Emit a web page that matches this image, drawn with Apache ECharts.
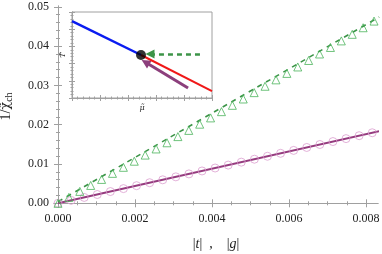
<!DOCTYPE html>
<html><head><meta charset="utf-8">
<script src="https://cdn.jsdelivr.net/npm/echarts@6/dist/echarts.min.js"></script>
<style>html,body{margin:0;padding:0;background:#fff}#c{width:382px;height:254px}</style>
</head><body><div id="c"></div>
<script>
// ---- data ----
const xMajor = [0, 0.002, 0.004, 0.006, 0.008];
const xMinor = [0.0005,0.001,0.0015,0.0025,0.003,0.0035,0.0045,0.005,0.0055,0.0065,0.007,0.0075];
const yMajor = [0, 0.01, 0.02, 0.03, 0.04, 0.05];
const yMinor = [0.002,0.004,0.006,0.008,0.012,0.014,0.016,0.018,0.022,0.024,0.026,0.028,0.032,0.034,0.036,0.038,0.042,0.044,0.046,0.048];

// green triangles (|g|)
const triX = [0,0.000283,0.000566,0.000849,0.001132,0.001415,0.001698,0.001981,0.002264,0.002547,0.00283,0.003113,0.003396,0.003679,0.003962,0.004245,0.004528,0.004811,0.005094,0.005377,0.00566,0.005943,0.006226,0.006509,0.006792,0.007075,0.007358,0.007641,0.007924,0.008207];
const triY = [0,0.00151,0.00303,0.00455,0.00608,0.00762,0.00916,0.01071,0.01227,0.01383,0.0154,0.01697,0.01855,0.02013,0.02173,0.02332,0.02493,0.02654,0.02816,0.02978,0.03141,0.03305,0.03469,0.03634,0.03799,0.03965,0.04132,0.04299,0.04467,0.04636];
const greenLineX = [0, 0.00834];
const greenLineY = [0.0004, 0.0474];

// purple circles (|t|)
const cirX = [0,0.00034,0.00068,0.00102,0.00136,0.0017,0.00204,0.00238,0.00272,0.00306,0.0034,0.00374,0.00408,0.00442,0.00476,0.0051,0.00544,0.00578,0.00612,0.00646,0.0068,0.00714,0.00748,0.00782,0.00816];
const cirY = [0,0.00075,0.0015,0.00224,0.00299,0.00374,0.00449,0.00524,0.00598,0.00673,0.00748,0.00823,0.00898,0.00972,0.01047,0.01122,0.01197,0.01272,0.01346,0.01421,0.01496,0.01571,0.01646,0.0172,0.01795];
const purpleLineX = [0, 0.00834];
const purpleLineY = [0, 0.01835];

// inset (normalised coordinates)
const blueX = [0, 0.493];
const blueY = [0.895, 0.5];
const redX = [0.493, 1];
const redY = [0.5, 0.081];
const dotXY = [0.493, 0.5];
const greenArrow = [[0.914, 0.512], [0.557, 0.512]];
const purpleArrow = [[0.829, 0.116], [0.525, 0.415]];

const zip = (a, b) => a.map((v, i) => [v, b[i]]);
const frame = '#a0a0a0';
const serif = 'Liberation Serif';
const dserif = 'DejaVu Serif';

function xAx(opts) {
  return Object.assign({
    type: 'value', gridIndex: 0, min: -0.000104, max: 0.00831,
    axisLine: { show: true, lineStyle: { color: frame, width: 1 } },
    splitLine: { show: false },
    axisLabel: { show: false }
  }, opts);
}
function yAx(opts) {
  return Object.assign({
    type: 'value', gridIndex: 0, min: -0.00094, max: 0.0502,
    axisLine: { show: true, lineStyle: { color: frame, width: 1 } },
    splitLine: { show: false },
    axisLabel: { show: false }
  }, opts);
}
const majTick = v => ({ show: true, inside: true, length: 4, customValues: v, lineStyle: { color: frame } });
const minTick = v => ({ show: true, inside: true, length: 2, customValues: v, lineStyle: { color: frame } });
const insetAx = (pos, extra) => Object.assign({
  type: 'value', gridIndex: 1, min: 0, max: 1, interval: 0.2, position: pos, z: 6,
  axisLine: { show: true, lineStyle: { color: frame } }, splitLine: { show: false },
  axisTick: { show: true, inside: true, length: 3, lineStyle: { color: frame } },
  minorTick: { show: true, splitNumber: 5, length: 1.5, lineStyle: { color: frame } },
  axisLabel: { show: false }
}, extra || {});

const chart = echarts.init(document.getElementById('c'), null, { renderer: 'canvas' });
chart.setOption({
  animation: false,
  backgroundColor: '#fff',
  grid: [
    { left: 54, top: 6, right: 4, bottom: 47, outerBoundsMode: 'none', containLabel: false },
    { left: 72, top: 12, width: 140, height: 86, outerBoundsMode: 'none', containLabel: false, show: true, backgroundColor: '#fff', borderColor: frame, borderWidth: 1, z: 5 }
  ],
  xAxis: [
    xAx({ position: 'bottom', axisTick: majTick(xMajor),
      axisLabel: { show: true, customValues: xMajor, formatter: v => v.toFixed(3), fontFamily: serif, fontSize: 12, color: '#222', margin: 6 },
      name: '{n||}{i|t}{n||  ,    |}{i|g}{n||}', nameLocation: 'middle', nameGap: 30,
      nameTextStyle: { rich: { n: { fontFamily: serif, fontSize: 14, color: '#222' }, i: { fontFamily: serif, fontStyle: 'italic', fontSize: 14, color: '#222' } } } }),
    xAx({ position: 'bottom', axisLine: { show: false }, axisTick: minTick(xMinor) }),
    xAx({ position: 'top', axisTick: majTick(xMajor) }),
    xAx({ position: 'top', axisLine: { show: false }, axisTick: minTick(xMinor) }),
    insetAx('bottom', { name: 'μ̃', nameLocation: 'middle', nameGap: 6, nameTextStyle: { fontFamily: dserif, fontStyle: 'italic', fontSize: 8, color: '#222' } }),
    insetAx('top')
  ],
  yAxis: [
    yAx({ position: 'left', axisTick: majTick(yMajor),
      axisLabel: { show: true, customValues: yMajor, formatter: v => v.toFixed(2), fontFamily: serif, fontSize: 12, color: '#222', margin: 5 },
      name: '{a|1/}{c|χ̃}{s|ch}', nameLocation: 'middle', nameGap: 40, nameRotate: 90,
      nameTextStyle: { rich: { a: { fontFamily: serif, fontSize: 14, color: '#222' }, c: { fontFamily: dserif, fontSize: 13, color: '#222' }, s: { fontFamily: serif, fontSize: 10, color: '#222', verticalAlign: 'bottom', padding: [6, 0, 0, 0] } } } }),
    yAx({ position: 'left', axisLine: { show: false }, axisTick: minTick(yMinor) }),
    yAx({ position: 'right', axisTick: majTick(yMajor) }),
    yAx({ position: 'right', axisLine: { show: false }, axisTick: minTick(yMinor) }),
    insetAx('left', { name: 'T̃', nameLocation: 'middle', nameGap: 5, nameRotate: 90, nameTextStyle: { fontFamily: dserif, fontStyle: 'italic', fontSize: 8, color: '#222' } }),
    insetAx('right')
  ],
  series: [
    { type: 'line', xAxisIndex: 0, yAxisIndex: 0, data: zip(purpleLineX, purpleLineY), showSymbol: false, symbol: 'none',
      lineStyle: { color: '#953b7e', width: 2 }, z: 2 },
    { type: 'scatter', xAxisIndex: 0, yAxisIndex: 0, data: zip(cirX, cirY), symbol: 'circle', symbolSize: 8,
      itemStyle: { color: 'transparent', borderColor: '#dc9fd0', borderWidth: 1 }, z: 3 },
    { type: 'line', xAxisIndex: 0, yAxisIndex: 0, data: zip(greenLineX, greenLineY), showSymbol: false, symbol: 'none',
      lineStyle: { color: '#3c9448', width: 1.6, type: [5, 5] }, z: 2 },
    { type: 'scatter', xAxisIndex: 0, yAxisIndex: 0, data: zip(triX, triY), symbol: 'triangle', symbolSize: 8,
      itemStyle: { color: 'transparent', borderColor: '#4cb45c', borderWidth: 1 }, z: 3 },
    // inset
    { type: 'line', xAxisIndex: 4, yAxisIndex: 4, data: zip(blueX, blueY), showSymbol: false, symbol: 'none',
      lineStyle: { color: '#0a1cf0', width: 2.5 }, z: 7 },
    { type: 'line', xAxisIndex: 4, yAxisIndex: 4, data: zip(redX, redY), showSymbol: false, symbol: 'none',
      lineStyle: { color: '#f01818', width: 2 }, z: 7 },
    { type: 'lines', coordinateSystem: 'cartesian2d', xAxisIndex: 4, yAxisIndex: 4, z: 7,
      data: [{ coords: greenArrow }], symbol: ['none', 'triangle'], symbolSize: 9,
      lineStyle: { color: '#3c9448', width: 2.5, type: [5, 4], opacity: 1 } },
    { type: 'lines', coordinateSystem: 'cartesian2d', xAxisIndex: 4, yAxisIndex: 4, z: 7,
      data: [{ coords: purpleArrow }], symbol: ['none', 'triangle'], symbolSize: 9,
      lineStyle: { color: '#8c3f7c', width: 3, opacity: 1 } },
    { type: 'scatter', xAxisIndex: 4, yAxisIndex: 4, data: [dotXY], symbol: 'circle', symbolSize: 10,
      itemStyle: { color: '#000' }, z: 8 }
  ]
});
</script>
</body></html>
